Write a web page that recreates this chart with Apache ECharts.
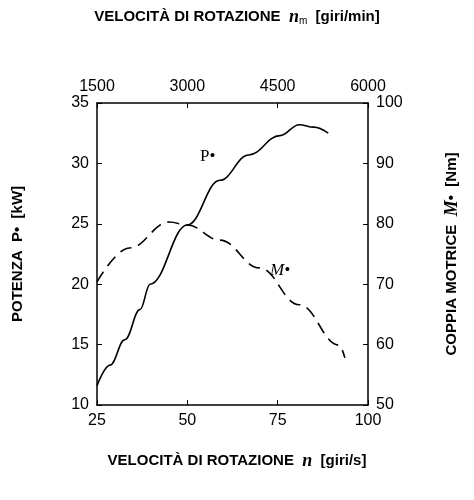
<!DOCTYPE html><html><head><meta charset="utf-8">
<script src="https://cdn.jsdelivr.net/npm/echarts@6/dist/echarts.min.js"></script>
<style>html,body{margin:0;background:#fff}#c{width:474px;height:500px}</style></head><body><div id="c"></div>
<script>
const pX=[25,28.6,32.7,36.9,39.7,50,59,67,75.6,81,85,89];
const pY=[11.6,13.3,15.4,17.9,20,24.9,28.6,30.7,32.3,33.2,33,32.5];
const mX=[25,34,45,50,59,70,81,92,93.6];
const mY=[70.4,76,80.3,79.8,77.3,72.7,66.6,59.9,57.8];
const topTicks=[1500,3000,4500,6000];
const F='Liberation Sans, Arial, sans-serif';
const ax={axisLine:{lineStyle:{color:'#000',width:1.5}},axisTick:{inside:true,lineStyle:{color:'#000'}},splitLine:{show:false},axisLabel:{color:'#000',fontSize:16,fontFamily:F}};
const ch=echarts.init(document.getElementById('c'));
ch.setOption({animation:false,
grid:{left:97,right:106,top:103,bottom:95},
xAxis:[Object.assign({type:'value',min:25,max:100,interval:25,position:'bottom'},ax),
 Object.assign({type:'value',min:topTicks[0],max:topTicks[3],interval:1500,position:'top'},ax,{axisLabel:Object.assign({},ax.axisLabel,{formatter:v=>String(v)})})],
yAxis:[Object.assign({type:'value',min:10,max:35,interval:5,position:'left'},ax),
 Object.assign({type:'value',min:50,max:100,interval:10,position:'right'},ax)],
series:[{type:'line',smooth:0.4,smoothMonotone:'x',symbol:'none',data:pX.map((x,i)=>[x,pY[i]]),lineStyle:{color:'#000',width:1.6}},
{type:'line',smooth:0.4,smoothMonotone:'x',symbol:'none',yAxisIndex:1,data:mX.map((x,i)=>[x,mY[i]]),lineStyle:{color:'#000',width:1.6,type:[12,7]}}],
graphic:[
{type:'text',left:'center',top:8,style:{text:'VELOCITÀ DI ROTAZIONE  {i|n}{s|m}  [giri/min]',font:'bold 15px '+F,fill:'#000',rich:{i:{fontStyle:'italic',fontFamily:'Liberation Serif',fontSize:18,fontWeight:'bold'},s:{fontSize:10,padding:[8,0,0,0]}}}},
{type:'text',left:'center',top:452,style:{text:'VELOCITÀ DI ROTAZIONE  {i|n}  [giri/s]',font:'bold 15px '+F,fill:'#000',rich:{i:{fontStyle:'italic',fontFamily:'Liberation Serif',fontSize:18,fontWeight:'bold'}}}},
{type:'text',x:18,y:254,rotation:Math.PI/2,style:{text:'POTENZA  P\u2022  [kW]',font:'bold 15px '+F,fill:'#000',align:'center',verticalAlign:'middle'}},
{type:'text',x:452,y:254,rotation:Math.PI/2,style:{text:'COPPIA MOTRICE  {i|M}\u2022  [Nm]',font:'bold 15px '+F,fill:'#000',align:'center',verticalAlign:'middle',rich:{i:{fontStyle:'italic',fontFamily:'Liberation Serif',fontSize:18,fontWeight:'bold'}}}},
{type:'text',x:200,y:148,style:{text:'P\u2022',font:'17px Liberation Serif',fill:'#000'}},
{type:'text',x:270,y:262,style:{text:'M\u2022',font:'italic 17px Liberation Serif',fill:'#000'}}
]});
</script></body></html>
